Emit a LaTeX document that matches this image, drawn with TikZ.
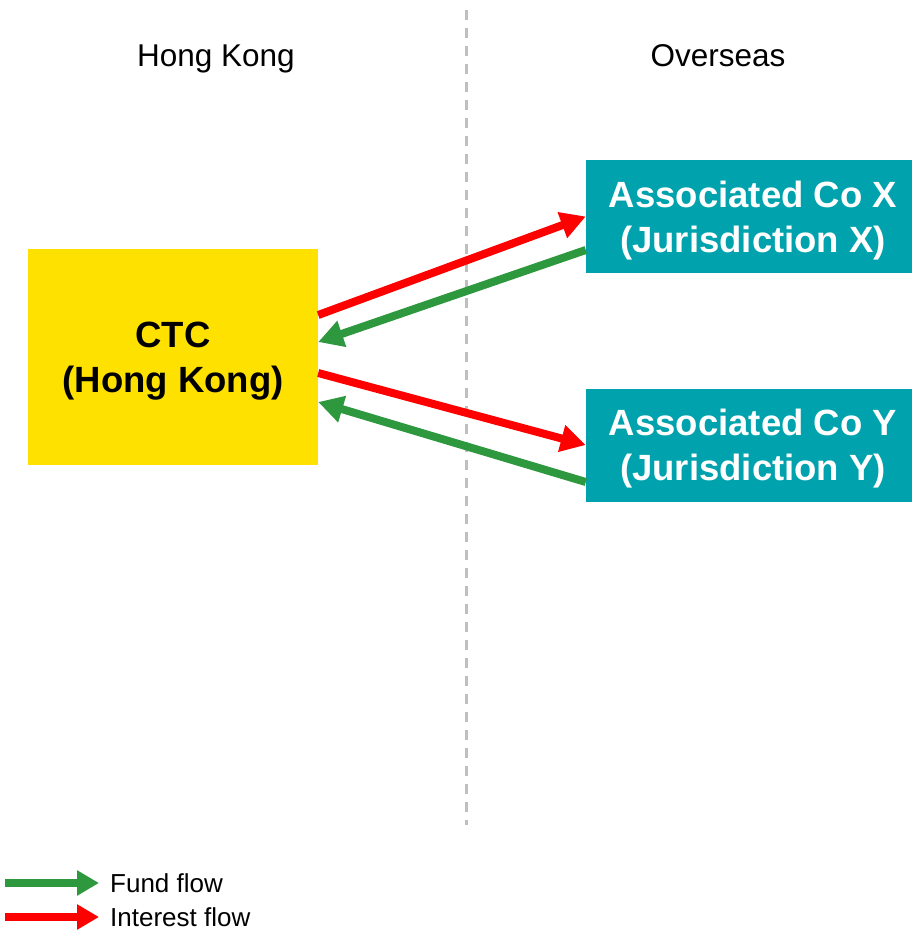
\documentclass[tikz,border=0pt]{standalone}
\usepackage{fontspec}
\setmainfont{Liberation Sans}
\usetikzlibrary{positioning,arrows.meta}
\definecolor{ctcyellow}{RGB}{255,225,0}
\definecolor{coteal}{RGB}{0,163,173}
\definecolor{fundgreen}{RGB}{46,152,62}
\definecolor{intred}{RGB}{255,0,0}
\tikzset{block/.style={fill=ctcyellow,minimum width=290pt,minimum height=216pt,align=center,inner sep=0pt,
                       text depth=0pt,font=\fontsize{36.5}{45}\selectfont\bfseries},
         coblock/.style={block,fill=coteal,text=white,minimum width=334pt,minimum height=113pt},
         side/.style={font=\fontsize{31.5}{38}\selectfont,anchor=base},
         legend/.style={font=\fontsize{26}{30}\selectfont,inner sep=0pt,anchor=west},
         keytip/.style={-{Triangle[length=22pt,width=24pt]}}
}
\tikzstyle{fund} = [line width=8pt,fundgreen,-{Triangle[length=25pt,width=26pt]}]
\tikzstyle{interest} = [line width=8pt,intred,-{Triangle[length=25pt,width=26pt]}]

\begin{document}
\begin{tikzpicture}[x=1pt,y=-1pt]
\useasboundingbox (0,0) rectangle (912,930);

\coordinate (bordertop) at (466,10);
\coordinate (borderbot) at (466,825);
\draw[gray!50,line width=3pt,dash pattern=on 10pt off 8pt] (bordertop)--(borderbot);

\node[side] (hk) at (216,66) {Hong Kong};
\node[side] (os) at (718,66) {Overseas};

\node[block] (ctc) at (173,357) {CTC\\(Hong Kong)};
\node[coblock] (cox) at (753,216.5) {Associated Co X\\(Jurisdiction X)};
\node[coblock] (coy) at (753,445) {Associated Co Y\\(Jurisdiction Y)};

\draw[interest] ([yshift=42pt]ctc.east)--(cox.west);
\draw[fund] ([yshift=-33.5pt]cox.west)--([yshift=15pt]ctc.east);
\draw[interest] ([yshift=-16pt]ctc.east)--(coy.west);
\draw[fund] ([yshift=-37pt]coy.west)--([yshift=-45pt]ctc.east);

% legend
\coordinate (fundtail) at (5,883);
\coordinate[right=94pt of fundtail] (fundhead);
\node[legend,right=11pt of fundhead] (fundtext) {Fund flow};
\draw[fund,keytip] (fundtail)--(fundhead);
\coordinate (inttail) at (5,917);
\coordinate[right=94pt of inttail] (inthead);
\node[legend,right=11pt of inthead] (inttext) {Interest flow};
\draw[interest,keytip] (inttail)--(inthead);

\end{tikzpicture}
\end{document}
